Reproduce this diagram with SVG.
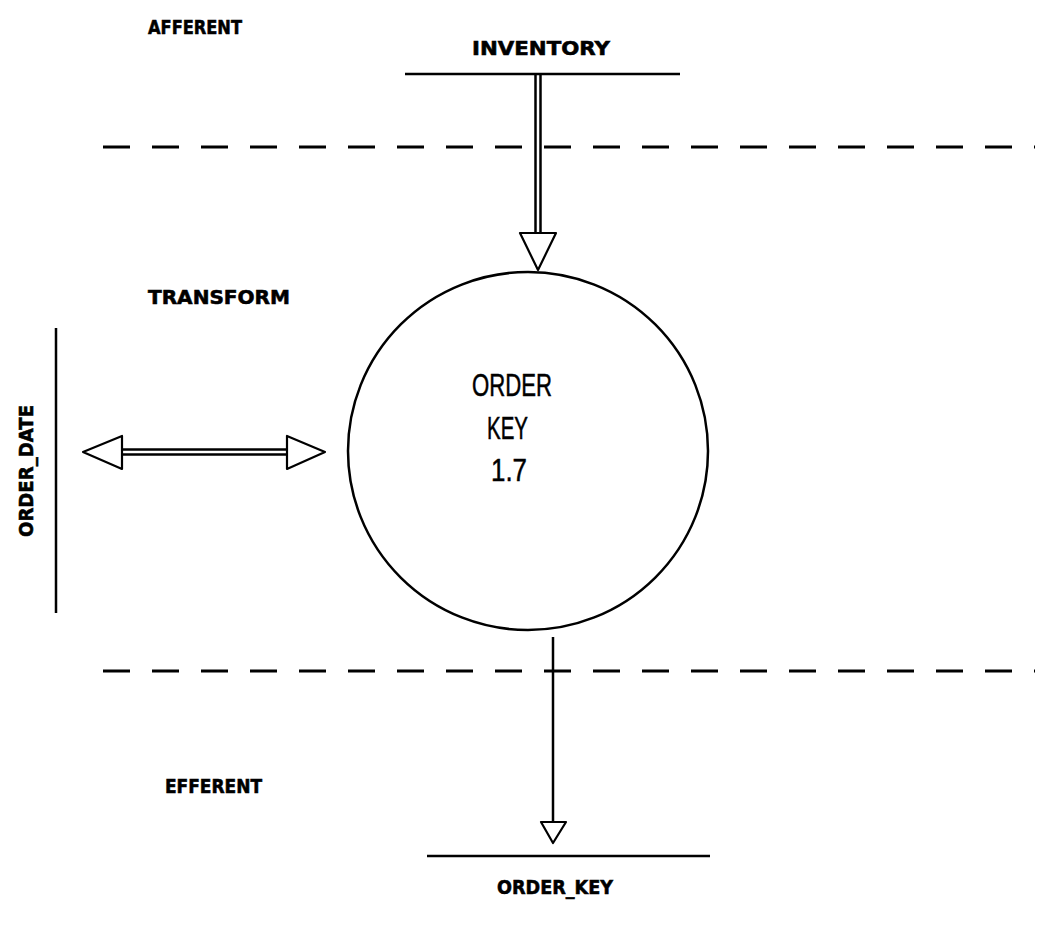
<svg xmlns="http://www.w3.org/2000/svg" width="1044" height="929" viewBox="0 0 1044 929">
  <style>
    .lbl { font-family: "DejaVu Sans", "Liberation Sans", sans-serif; font-weight: bold; font-size: 20px; fill: #000; stroke: #000; stroke-width: 0.6; }
    .proc { font-family: "Liberation Sans", "DejaVu Sans", sans-serif; font-size: 32px; fill: #000; stroke: #000; stroke-width: 0.5; }
    .store { stroke: #000; stroke-width: 2.5; fill: none; }
    .band { stroke: #000; stroke-width: 3; stroke-dasharray: 27 22; fill: none; }
    .flow { stroke: #000; stroke-width: 2.5; fill: none; }
    .head { stroke: #000; stroke-width: 2.2; fill: #fff; stroke-linejoin: round; }
  </style>
  <rect width="1044" height="929" fill="#fff"/>

  <!-- zone labels and boundaries -->
  <g id="zones">
    <text class="lbl" x="148" y="34" textLength="94" lengthAdjust="spacingAndGlyphs">AFFERENT</text>
    <text class="lbl" x="148" y="304" textLength="142" lengthAdjust="spacingAndGlyphs">TRANSFORM</text>
    <text class="lbl" x="165" y="793" textLength="97" lengthAdjust="spacingAndGlyphs">EFFERENT</text>
    <line class="band" x1="103" y1="147" x2="1035" y2="147"/>
    <line class="band" x1="103" y1="671" x2="1035" y2="671"/>
  </g>

  <!-- data store: INVENTORY -->
  <g id="store-inventory">
    <text class="lbl" x="472" y="55" textLength="138" lengthAdjust="spacingAndGlyphs">INVENTORY</text>
    <line class="store" x1="405" y1="74" x2="680" y2="74"/>
  </g>

  <!-- data store: ORDER_DATE -->
  <g id="store-order-date">
    <line class="store" x1="56" y1="328" x2="56" y2="613"/>
    <text class="lbl" x="0" y="0" transform="translate(33 537) rotate(-90)" textLength="132" lengthAdjust="spacingAndGlyphs">ORDER_DATE</text>
  </g>

  <!-- data store: ORDER_KEY -->
  <g id="store-order-key">
    <line class="store" x1="427" y1="856" x2="710" y2="856"/>
    <text class="lbl" x="497" y="894" textLength="116" lengthAdjust="spacingAndGlyphs">ORDER_KEY</text>
  </g>

  <!-- process bubble -->
  <g id="process-order-key">
    <ellipse cx="528" cy="451" rx="180" ry="179" fill="none" stroke="#000" stroke-width="2.5"/>
    <text class="proc" x="472" y="396" textLength="80" lengthAdjust="spacingAndGlyphs">ORDER</text>
    <text class="proc" x="487" y="439" textLength="41" lengthAdjust="spacingAndGlyphs">KEY</text>
    <text class="proc" x="491" y="481" textLength="36" lengthAdjust="spacingAndGlyphs">1.7</text>
  </g>

  <!-- connectors -->
  <g id="connectors">
    <!-- INVENTORY to bubble: double-line flow -->
    <line class="flow" x1="535.5" y1="74" x2="535.5" y2="233" stroke-width="2"/>
    <line class="flow" x1="540.5" y1="74" x2="540.5" y2="233" stroke-width="2"/>
    <polygon class="head" points="520,233 556,233 538,270"/>

    <!-- ORDER_DATE <-> bubble: two-way double-line flow -->
    <line class="flow" x1="120" y1="449.5" x2="289" y2="449.5" stroke-width="2"/>
    <line class="flow" x1="120" y1="454.5" x2="289" y2="454.5" stroke-width="2"/>
    <polygon class="head" points="122,436 122,469 83,452"/>
    <polygon class="head" points="287,436 287,469 325,452"/>

    <!-- bubble to ORDER_KEY -->
    <line class="flow" x1="553" y1="637" x2="553" y2="822" stroke-width="3"/>
    <polygon class="head" points="541,822 566,822 553,843"/>
  </g>
</svg>
